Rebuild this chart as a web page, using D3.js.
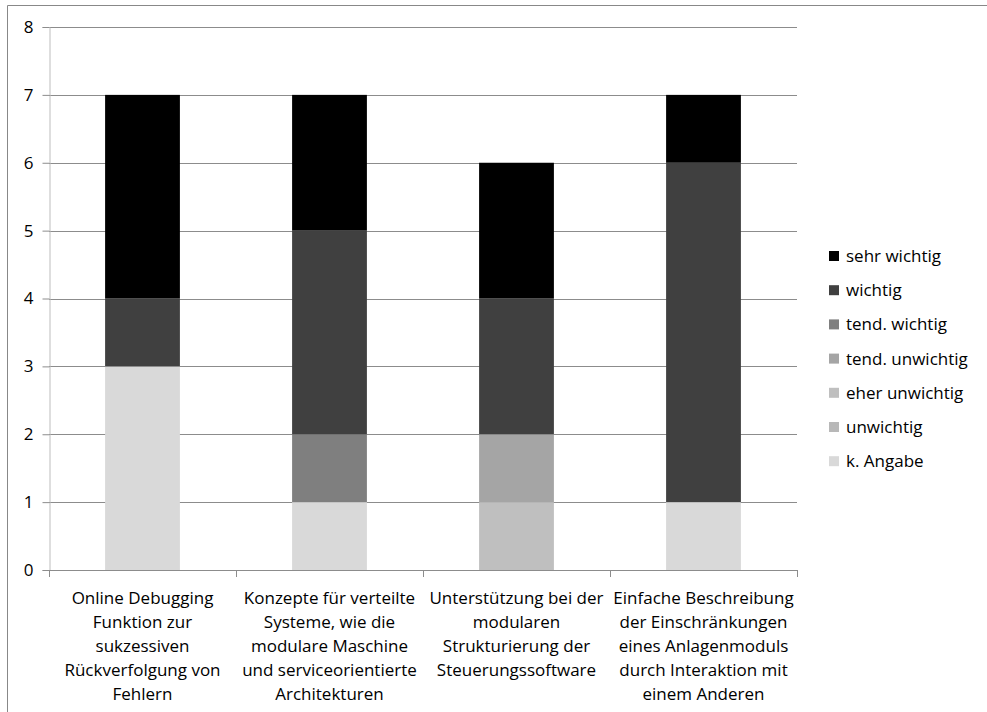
<!DOCTYPE html>
<html>
<head>
<meta charset="utf-8">
<script src="https://cdn.jsdelivr.net/npm/d3@7/dist/d3.min.js"></script>
<style>
  html, body { margin: 0; padding: 0; background: #fff; }
  svg { display: block; }
  text { font-family: "Open Sans", "Noto Sans", sans-serif; fill: #000; }
</style>
</head>
<body>
<svg id="chart" width="987" height="712"></svg>
<script>
// Topics (x categories), each label split into its lines
const categories = [
  ["Online Debugging", "Funktion zur", "sukzessiven", "Rückverfolgung von", "Fehlern"],
  ["Konzepte für verteilte", "Systeme, wie die", "modulare Maschine", "und serviceorientierte", "Architekturen"],
  ["Unterstützung bei der", "modularen", "Strukturierung der", "Steuerungssoftware"],
  ["Einfache Beschreibung", "der Einschränkungen", "eines Anlagenmoduls", "durch Interaktion mit", "einem Anderen"]
];

// Rating series, stacked bottom to top
const seriesNames = ["k. Angabe", "unwichtig", "eher unwichtig", "tend. unwichtig", "tend. wichtig", "wichtig", "sehr wichtig"];
const seriesColors = ["#d9d9d9", "#b8b8b8", "#bfbfbf", "#a5a5a5", "#7f7f7f", "#404040", "#000000"];

// Number of answers per rating, one value per topic
const kAngabe       = [3, 1, 0, 1];
const unwichtig     = [0, 0, 0, 0];
const eherUnwichtig = [0, 0, 1, 0];
const tendUnwichtig = [0, 0, 1, 0];
const tendWichtig   = [0, 1, 0, 0];
const wichtig       = [1, 3, 2, 5];
const sehrWichtig   = [3, 2, 2, 1];

const yTicks = [0, 1, 2, 3, 4, 5, 6, 7, 8];

const seriesValues = [kAngabe, unwichtig, eherUnwichtig, tendUnwichtig, tendWichtig, wichtig, sehrWichtig];

const svg = d3.select("#chart");

// Outer frame (top and left edges are visible)
svg.append("line").attr("x1", 7.5).attr("x2", 987).attr("y1", 5.5).attr("y2", 5.5)
  .attr("stroke", "#888").attr("stroke-width", 1);
svg.append("line").attr("x1", 7.5).attr("x2", 7.5).attr("y1", 5.5).attr("y2", 712)
  .attr("stroke", "#888").attr("stroke-width", 1);

const plot = { left: 49, right: 797, top: 27, bottom: 570 };

const x = d3.scaleBand()
  .domain(d3.range(categories.length))
  .range([plot.left, plot.right])
  .paddingInner(0.6)
  .paddingOuter(0.3);

const y = d3.scaleLinear().domain([0, 8]).range([plot.bottom, plot.top]);

// Horizontal gridlines
svg.append("g")
  .selectAll("line")
  .data(yTicks.filter(d => d > 0))
  .join("line")
  .attr("x1", plot.left).attr("x2", plot.right)
  .attr("y1", d => Math.round(y(d)) + 0.5).attr("y2", d => Math.round(y(d)) + 0.5)
  .attr("stroke", "#8c8c8c").attr("stroke-width", 1);

// Stacked data
const table = categories.map((c, i) => {
  const row = { idx: i };
  seriesNames.forEach((s, j) => { row[s] = seriesValues[j][i]; });
  return row;
});
const stacked = d3.stack().keys(seriesNames)(table);

svg.append("g")
  .selectAll("g")
  .data(stacked)
  .join("g")
  .attr("fill", (d, i) => seriesColors[i])
  .selectAll("rect")
  .data(d => d.filter(p => p[1] - p[0] > 0))
  .join("rect")
  .attr("x", d => x(d.data.idx))
  .attr("width", x.bandwidth())
  .attr("y", d => y(d[1]))
  .attr("height", d => y(d[0]) - y(d[1]));

// Y axis
const yAxis = svg.append("g")
  .attr("transform", `translate(${plot.left + 0.5},0)`)
  .call(d3.axisLeft(y).tickValues(yTicks).tickSize(7).tickPadding(9).tickFormat(d3.format("d")));
yAxis.select(".domain").attr("stroke", "#bdbdbd");
yAxis.selectAll(".tick line").attr("stroke", "#8c8c8c");
yAxis.selectAll(".tick text")
  .attr("font-size", 17).attr("font-family", "Open Sans, sans-serif").attr("fill", "#1a1a1a");

// X axis line with boundary ticks
const xAxis = svg.append("g");
xAxis.append("line")
  .attr("x1", plot.left).attr("x2", plot.right)
  .attr("y1", plot.bottom + 0.5).attr("y2", plot.bottom + 0.5)
  .attr("stroke", "#8c8c8c");
const step = x.step();
xAxis.selectAll("line.b")
  .data(d3.range(categories.length + 1))
  .join("line")
  .attr("class", "b")
  .attr("x1", i => Math.round(plot.left + i * step) + 0.5)
  .attr("x2", i => Math.round(plot.left + i * step) + 0.5)
  .attr("y1", plot.bottom).attr("y2", plot.bottom + 7)
  .attr("stroke", "#8c8c8c");

// Category labels
categories.forEach((lines, i) => {
  const cx = x(i) + x.bandwidth() / 2;
  const t = svg.append("text")
    .attr("text-anchor", "middle")
    .attr("font-size", 17)
    .attr("fill", "#1a1a1a");
  lines.forEach((ln, k) => {
    t.append("tspan").attr("x", cx).attr("y", 604 + k * 24).text(ln);
  });
});

// Legend, top entry is the top of the stack
const legendOrder = seriesNames.map((n, i) => ({ name: n, color: seriesColors[i] })).reverse();
const legend = svg.append("g").attr("transform", "translate(829,0)");
legendOrder.forEach((d, i) => {
  const cy = 256 + i * 34.2;
  legend.append("rect").attr("x", 0).attr("y", cy - 5).attr("width", 10).attr("height", 10).attr("fill", d.color);
  legend.append("text").attr("x", 17).attr("y", cy + 6).attr("font-size", 17).attr("fill", "#1a1a1a").text(d.name);
});
</script>
</body>
</html>
